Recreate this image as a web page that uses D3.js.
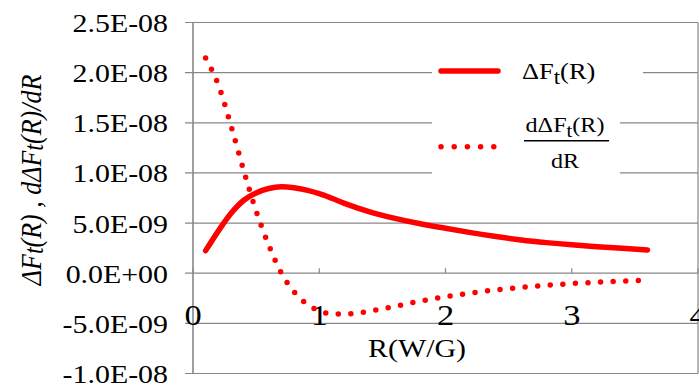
<!DOCTYPE html>
<html>
<head>
<meta charset="utf-8">
<script src="https://cdn.jsdelivr.net/npm/d3@7"></script>
<style>
  body { margin: 0; background: #fff; }
</style>
</head>
<body>
<div id="chart"></div>
<script>
var svgWidth = 699;
var svgHeight = 387;

// R (W/G) values
var rValues = [0.1, 0.2, 0.3, 0.4, 0.5, 0.6, 0.7, 0.8, 0.9, 1.0, 1.1, 1.2, 1.4, 1.6, 1.8,
    2.0, 2.2, 2.4, 2.6, 2.8, 3.0, 3.2, 3.4, 3.6];
// ΔFt(R)
var deltaF = [2.25e-9, 4.2e-9, 5.95e-9, 7.25e-9, 8.0e-9, 8.45e-9, 8.62e-9, 8.52e-9, 8.28e-9, 7.93e-9,
    7.47e-9, 6.97e-9, 6.12e-9, 5.47e-9, 4.93e-9, 4.48e-9, 4.05e-9, 3.66e-9, 3.32e-9, 3.05e-9,
    2.83e-9, 2.65e-9, 2.48e-9, 2.32e-9];
// dΔFt(R)/dR
var dDeltaF = [2.145e-8, 1.88e-8, 1.475e-8, 1.03e-8, 6.2e-9, 2.8e-9, 0.0, -1.85e-9, -3.05e-9, -3.75e-9,
    -4.05e-9, -4.07e-9, -3.78e-9, -3.3e-9, -2.78e-9, -2.35e-9, -1.98e-9, -1.66e-9, -1.42e-9, -1.21e-9,
    -1.03e-9, -0.9e-9, -0.8e-9, -0.7e-9];

var xTicks = [0, 1, 2, 3, 4];
var yTicks = [-1e-8, -5e-9, 0, 5e-9, 1e-8, 1.5e-8, 2e-8, 2.5e-8];
var yTickLabels = ["-1.0E-08", "-5.0E-09", "0.0E+00", "5.0E-09", "1.0E-08", "1.5E-08", "2.0E-08", "2.5E-08"];

var plot = { left: 193, right: 698, top: 22.5, bottom: 373.5 };
var gray = "#878787";
var red = "#ff0000";
var stretch = 1.15;
var serif = "Liberation Serif";

var svg = d3.select("#chart")
    .append("svg")
    .attr("width", svgWidth)
    .attr("height", svgHeight)
    .attr("font-family", serif);

var xScale = d3.scaleLinear().domain([0, 4]).range([plot.left, plot.right]);
var yScale = d3.scaleLinear().domain([-1e-8, 2.5e-8]).range([plot.bottom, plot.top]);

// horizontal text stretched a bit, like the source picture
function label(g, x, y, size, anchor, str) {
    return g.append("text")
        .attr("transform", `translate(${x},${y}) scale(${stretch},1)`)
        .attr("font-family", serif)
        .attr("font-size", size)
        .attr("text-anchor", anchor)
        .text(str);
}

// gridlines
svg.append("g")
    .selectAll("line")
    .data(yTicks)
    .enter()
    .append("line")
    .attr("x1", plot.left - 8)
    .attr("x2", plot.right)
    .attr("y1", d => yScale(d))
    .attr("y2", d => yScale(d))
    .attr("stroke", gray)
    .attr("stroke-width", 1.2);

// right border
svg.append("line")
    .attr("x1", plot.right).attr("x2", plot.right)
    .attr("y1", plot.top).attr("y2", plot.bottom)
    .attr("stroke", gray).attr("stroke-width", 1.2);

// y axis line
svg.append("line")
    .attr("x1", plot.left).attr("x2", plot.left)
    .attr("y1", plot.top).attr("y2", plot.bottom)
    .attr("stroke", gray).attr("stroke-width", 1.6);

// x ticks on the zero line
svg.append("g")
    .selectAll("line")
    .data(xTicks)
    .enter()
    .append("line")
    .attr("x1", d => xScale(d))
    .attr("x2", d => xScale(d))
    .attr("y1", yScale(0))
    .attr("y2", yScale(0) - 5)
    .attr("stroke", gray)
    .attr("stroke-width", 1.2);

// y tick labels
var yLab = svg.append("g");
yTicks.forEach(function (d, i) {
    label(yLab, 168, yScale(d) + 9.5, 26, "end", yTickLabels[i]);
});

// x tick labels
var xLab = svg.append("g");
xTicks.forEach(function (d) {
    label(xLab, xScale(d), 325, 30, "middle", String(d));
});

// axis titles
label(svg, 417, 357, 26, "middle", "R(W/G)");

var yTitle = svg.append("text")
    .attr("transform", `translate(41,180) rotate(-90) scale(1,${stretch})`)
    .attr("font-family", serif)
    .attr("font-size", 26)
    .attr("font-style", "italic")
    .attr("text-anchor", "middle");
yTitle.append("tspan").text("ΔF");
yTitle.append("tspan").attr("font-size", 24).attr("dy", 2).text("t");
yTitle.append("tspan").attr("dy", -2).text("(R) , dΔF");
yTitle.append("tspan").attr("font-size", 24).attr("dy", 2).text("t");
yTitle.append("tspan").attr("dy", -2).text("(R)/dR");

// curves
var line1 = d3.line()
    .x((d, i) => xScale(rValues[i]))
    .y(d => yScale(d))
    .curve(d3.curveMonotoneX);

svg.append("path")
    .attr("d", line1(dDeltaF))
    .attr("fill", "none")
    .attr("stroke", red)
    .attr("stroke-width", 5.5)
    .attr("stroke-linecap", "round")
    .attr("stroke-dasharray", "0 12.6");

svg.append("path")
    .attr("d", line1(deltaF))
    .attr("fill", "none")
    .attr("stroke", red)
    .attr("stroke-width", 5.5)
    .attr("stroke-linecap", "round");

// legend
var legend = svg.append("g");
legend.append("rect")
    .attr("x", 432).attr("y", 55).attr("width", 211).attr("height", 37)
    .attr("fill", "#fff");
legend.append("rect")
    .attr("x", 432).attr("y", 92).attr("width", 188).attr("height", 96)
    .attr("fill", "#fff");

legend.append("line")
    .attr("x1", 441).attr("x2", 498).attr("y1", 71).attr("y2", 71)
    .attr("stroke", red).attr("stroke-width", 5.5).attr("stroke-linecap", "round");
legend.append("line")
    .attr("x1", 441).attr("x2", 496).attr("y1", 146.7).attr("y2", 146.7)
    .attr("stroke", red).attr("stroke-width", 5.5).attr("stroke-linecap", "round")
    .attr("stroke-dasharray", "0 13.2");

var t1 = legend.append("text")
    .attr("transform", `translate(522,78.5) scale(${stretch},1)`)
    .attr("font-family", serif)
    .attr("font-size", 23);
t1.append("tspan").text("ΔF");
t1.append("tspan").attr("dy", 5).attr("font-size", 20).text("t");
t1.append("tspan").attr("dy", -5).text("(R)");

var t2 = legend.append("text")
    .attr("transform", `translate(565,131.5) scale(${stretch},1)`)
    .attr("font-family", serif)
    .attr("font-size", 21)
    .attr("text-anchor", "middle");
t2.append("tspan").text("dΔF");
t2.append("tspan").attr("dy", 5).attr("font-size", 18).text("t");
t2.append("tspan").attr("dy", -5).text("(R)");

legend.append("line")
    .attr("x1", 524).attr("x2", 609).attr("y1", 140.7).attr("y2", 140.7)
    .attr("stroke", "#000").attr("stroke-width", 1.5);

label(legend, 565, 168, 21, "middle", "dR");
</script>
</body>
</html>
